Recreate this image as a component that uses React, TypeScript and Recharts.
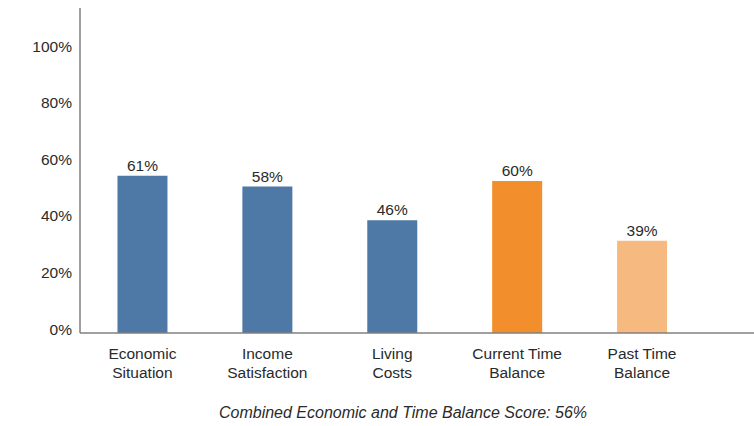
import { BarChart, Bar, XAxis, YAxis, Cell, LabelList } from "recharts";

const categories = [
  "Economic\nSituation",
  "Income\nSatisfaction",
  "Living\nCosts",
  "Current Time\nBalance",
  "Past Time\nBalance",
];
// printed percentages above each bar
const scoreLabels = [61, 58, 46, 60, 39];
// bar heights as drawn against the y axis (they sit lower than the printed numbers)
const barHeights = [55.6, 51.8, 39.9, 53.8, 32.6];
const barColors = ["#4e78a6", "#4e78a6", "#4e78a6", "#f28e2b", "#f6ba80"];
const yTicks = [0, 20, 40, 60, 80, 100];
const combinedScore = 56;

const data = categories.map((name, i) => ({
  name,
  value: barHeights[i],
  label: scoreLabels[i],
}));

const FONT = "'Liberation Sans', Arial, sans-serif";
const TEXT = "#2a2a2a";
const AXIS = "#808080";

const YTick = ({ x, y, payload }: any) => (
  <text x={x} y={y - 4} textAnchor="end" dominantBaseline="central" fill={TEXT} fontSize={15.5} fontFamily={FONT}>
    {payload.value}%
  </text>
);

const XTick = ({ x, y, payload }: any) => {
  const lines = String(payload.value).split("\n");
  return (
    <text x={x} textAnchor="middle" fill={TEXT} fontSize={15.5} fontFamily={FONT}>
      {lines.map((line, i) => (
        <tspan key={i} x={x} y={y + 12 + i * 19} dominantBaseline="central">
          {line}
        </tspan>
      ))}
    </text>
  );
};

const App = () => {
  return (
    <div style={{ position: "absolute", left: 0, top: 0, width: 754, height: 426, background: "#fff" }}>
      <BarChart
        width={754}
        height={426}
        data={data}
        margin={{ top: 8, right: 0, bottom: 33, left: 0 }}
        barCategoryGap="30%"
      >
        <XAxis
          dataKey="name"
          interval={0}
          height={60}
          tickLine={false}
          axisLine={{ stroke: AXIS, strokeWidth: 1.5 }}
          padding={{ left: 0, right: 49.5 }}
          tick={<XTick />}
        />
        <YAxis
          width={80}
          domain={[0, 115]}
          ticks={yTicks}
          tickLine={false}
          axisLine={{ stroke: AXIS, strokeWidth: 1.5 }}
          tick={<YTick />}
        />
        <Bar dataKey="value" isAnimationActive={false}>
          {data.map((_, i) => (
            <Cell key={i} fill={barColors[i]} />
          ))}
          <LabelList
            dataKey="label"
            position="top"
            offset={5}
            formatter={(v: any) => `${v}%`}
            fill={TEXT}
            fontSize={15.5}
            fontFamily={FONT}
          />
        </Bar>
      </BarChart>
      <div
        style={{
          position: "absolute",
          left: 0,
          width: 806,
          top: 403,
          textAlign: "center",
          fontFamily: FONT,
          fontStyle: "italic",
          fontSize: 16,
          color: TEXT,
          lineHeight: "20px",
        }}
      >
        Combined Economic and Time Balance Score: {combinedScore}%
      </div>
    </div>
  );
};

export default App;
